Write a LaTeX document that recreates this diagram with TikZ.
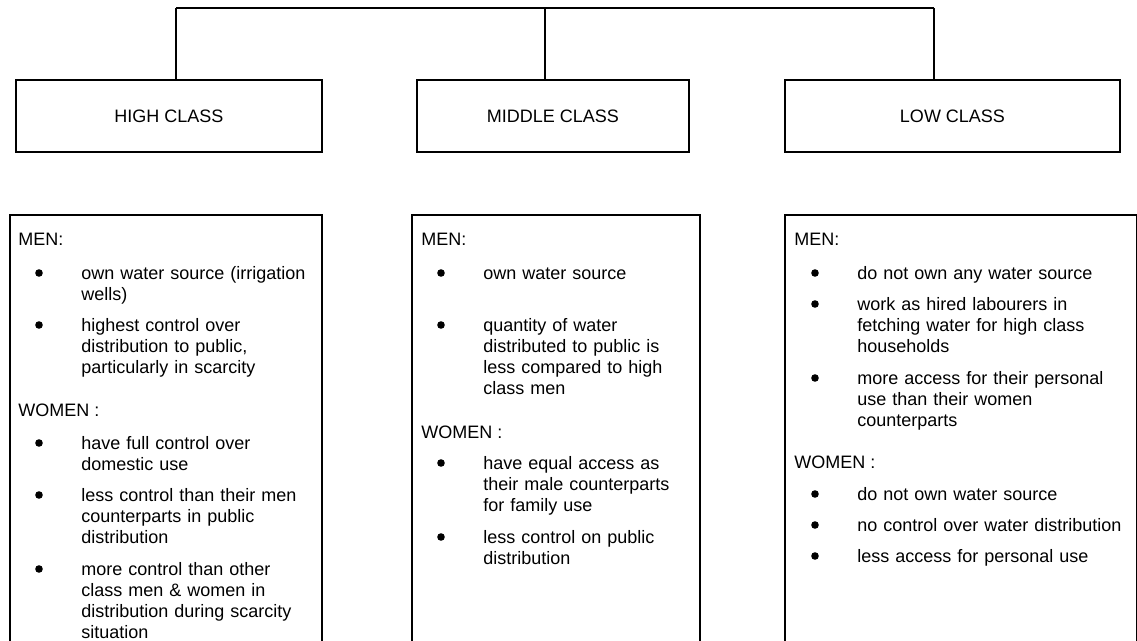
\documentclass[tikz,border=0pt]{standalone}
\usepackage{fontspec}
\setmainfont{Liberation Sans}
\begin{document}
\begin{tikzpicture}[x=0.5pt,y=-0.5pt,
	classbox/.style={draw, line width=1pt, minimum height=36pt, inner sep=0pt, font=\fontsize{9}{10.5}\selectfont},
	panel/.style={draw, line width=1pt, anchor=north west, minimum height=240pt, inner sep=0pt},
	head/.style={anchor=base west, inner sep=0pt, font=\fontsize{9}{10.5}\selectfont},
	entry/.style={anchor=base west, inner sep=0pt, text width=150pt, align=left, font=\fontsize{9}{10.5}\selectfont},
	dot/.style={circle, fill, inner sep=0pt, minimum size=3.8pt}]
		
		\useasboundingbox (0,0) rectangle (1137,641);
		\clip (0,0) rectangle (1137,641);
		
		% class boxes
		\node[classbox, minimum width=153pt] (high) at (169,116) {HIGH CLASS};
		\node[classbox, minimum width=136pt] (mid) at (553,116) {MIDDLE CLASS};
		\node[classbox, minimum width=167.5pt] (low) at (952.5,116) {LOW CLASS};
		
		\coordinate (hl) at (176,8);
		\coordinate (hub) at (545,8);
		\coordinate (hr) at (934,8);
		\draw[line width=1pt] (hl) -- (hr);
		\draw[line width=0.7pt] (hl) -- (hl |- high.north);
		\draw[line width=0.7pt] (hub) -- (hub |- mid.north);
		\draw[line width=0.7pt] (hr) -- (hr |- low.north);
		
		% panels
		\node[panel, minimum width=156pt] (hpanel) at (9,214) {};
		\node[panel, minimum width=144pt] (mpanel) at (411,214) {};
		\node[panel, minimum width=176pt] (lpanel) at (784,214) {};
		
		% high class
		\node[head] (hmen) at (18,246) {MEN:};
		\node[dot] (hd1) at (39,273) {};
		\node[entry] (he1) at (81,280) {own water source (irrigation\\wells)};
		\node[dot] (hd2) at (39,325) {};
		\node[entry] (he2) at (81,332) {highest control over\\distribution to public,\\particularly in scarcity};
		\node[head] (hwomen) at (18,417) {WOMEN :};
		\node[dot] (hd3) at (39,443) {};
		\node[entry] (he3) at (81,450) {have full control over\\domestic use};
		\node[dot] (hd4) at (39,495) {};
		\node[entry] (he4) at (81,502) {less control than their men\\counterparts in public\\distribution};
		\node[dot] (hd5) at (39,569) {};
		\node[entry] (he5) at (81,576) {more control than other\\class men \& women in\\distribution during scarcity\\situation};
		
		% middle class
		\node[head] (mmen) at (421,246) {MEN:};
		\node[dot] (md1) at (441,273) {};
		\node[entry] (me1) at (483,280) {own water source};
		\node[dot] (md2) at (441,325) {};
		\node[entry] (me2) at (483,332) {quantity of water\\distributed to public is\\less compared to high\\class men};
		\node[head] (mwomen) at (421,439) {WOMEN :};
		\node[dot] (md3) at (441,463) {};
		\node[entry] (me3) at (483,470) {have equal access as\\their male counterparts\\for family use};
		\node[dot] (md4) at (441,537) {};
		\node[entry] (me4) at (483,544) {less control on public\\distribution};
		
		% low class
		\node[head] (lmen) at (794,246) {MEN:};
		\node[dot] (ld1) at (815,273) {};
		\node[entry] (le1) at (857,280) {do not own any water source};
		\node[dot] (ld2) at (815,304) {};
		\node[entry] (le2) at (857,311) {work as hired labourers in\\fetching water for high class\\households};
		\node[dot] (ld3) at (815,378) {};
		\node[entry] (le3) at (857,385) {more access for their personal\\use than their women\\counterparts};
		\node[head] (lwomen) at (794,469) {WOMEN :};
		\node[dot] (ld4) at (815,494) {};
		\node[entry] (le4) at (857,501) {do not own water source};
		\node[dot] (ld5) at (815,525) {};
		\node[entry] (le5) at (857,532) {no control over water distribution};
		\node[dot] (ld6) at (815,556) {};
		\node[entry] (le6) at (857,563) {less access for personal use};
		
	\end{tikzpicture}
\end{document}
